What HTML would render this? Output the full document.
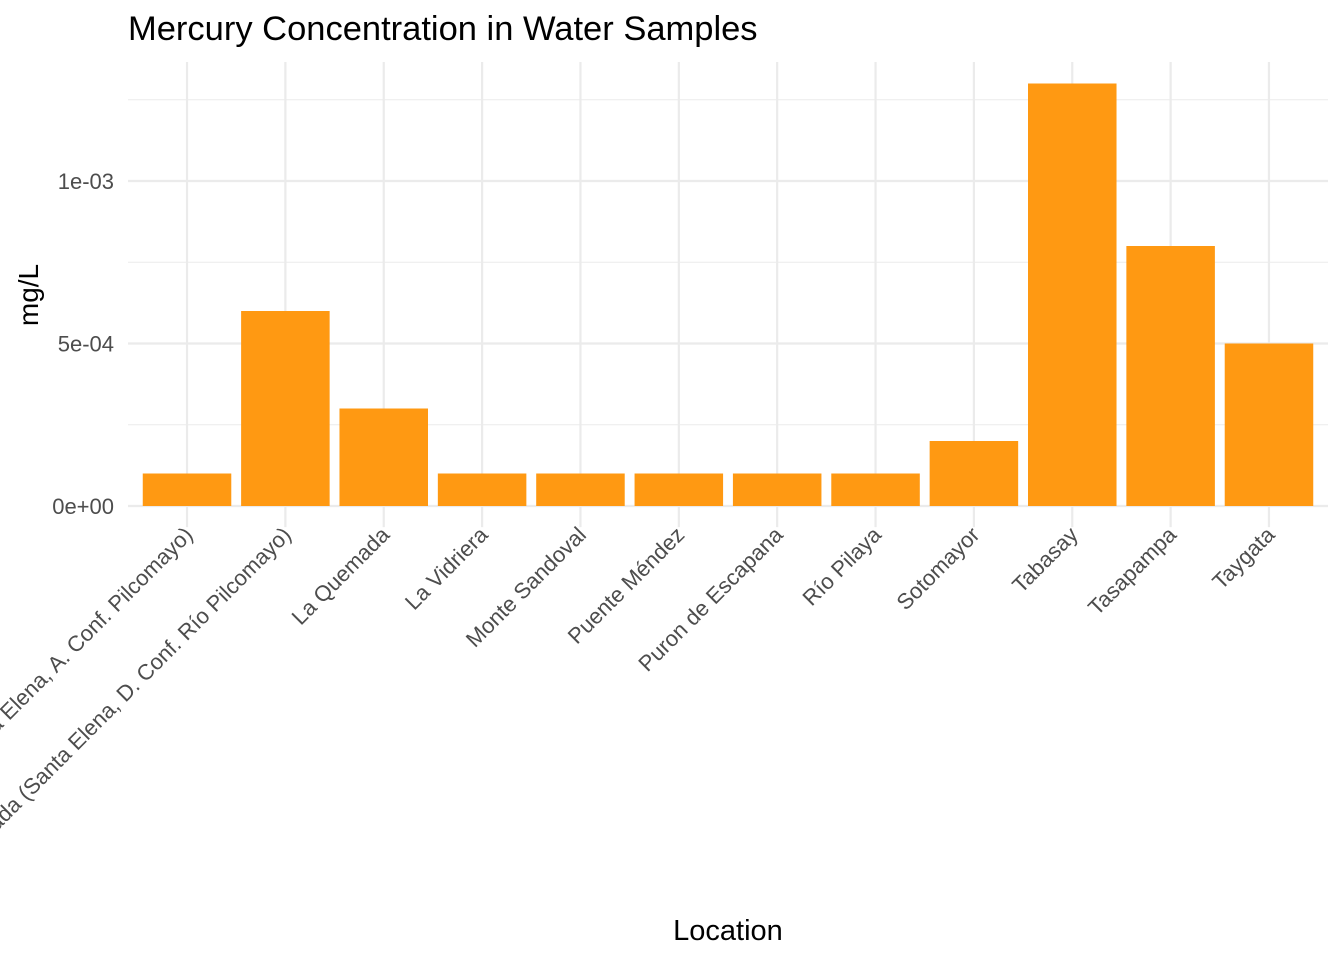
<!DOCTYPE html>
<html><head><meta charset="utf-8"><style>
body{margin:0;background:#fff;}
svg text{font-family:"Liberation Sans",Arial,sans-serif;}
</style></head><body>
<svg id="chart" width="1344" height="960" xmlns="http://www.w3.org/2000/svg">
<rect width="1344" height="960" fill="#fff"/>
<text x="128" y="40" font-size="34.5" fill="#000">Mercury Concentration in Water Samples</text>
<g id="grid"></g>
<g id="bars"></g>
<g id="ylabels"></g>
<g id="xlabels"></g>
<text x="728" y="940" font-size="29" text-anchor="middle" fill="#000">Location</text>
<text transform="translate(38,295) rotate(-90)" font-size="28" text-anchor="middle" fill="#000">mg/L</text>
</svg>
<script>
const categories=["Quebrada (Santa Elena, A. Conf. Pilcomayo)","Quebrada (Santa Elena, D. Conf. Río Pilcomayo)","La Quemada","La Vidriera","Monte Sandoval","Puente Méndez","Puron de Escapana","Río Pilaya","Sotomayor","Tabasay","Tasapampa","Taygata"];
const values=[0.0001,0.0006,0.0003,0.0001,0.0001,0.0001,0.0001,0.0001,0.0002,0.0013,0.0008,0.0005];
const yTicks=[0,0.0005,0.001];
const yTickLabels=["0e+00","5e-04","1e-03"];
const yMinor=[0.00025,0.00075,0.00125];
const NS="http://www.w3.org/2000/svg";
const L=128,R=1328,T=62;
const maxV=Math.max(...values);
const step=(R-L)/(categories.length-1+1.2);
const x=i=>L+(0.6+i)*step;
const ppu=(506-181)/0.001;
const y=v=>506-v*ppu;
const B=y(-maxV*0.05);
function mk(tag,attrs,parent){const e=document.createElementNS(NS,tag);for(const k in attrs)e.setAttribute(k,attrs[k]);document.getElementById(parent).appendChild(e);return e;}
yMinor.forEach(v=>{const l=mk('line',{x1:L,x2:R,y1:y(v),y2:y(v),stroke:'#ebebeb','stroke-width':1.1},'grid');

});
yTicks.forEach((v,i)=>{const l=mk('line',{x1:L,x2:R,y1:y(v),y2:y(v),stroke:'#ebebeb','stroke-width':2.2},'grid');


const t=mk('text',{x:L-14,y:y(v)+8,'font-size':22,'text-anchor':'end',fill:'#4d4d4d'},'ylabels');t.textContent=yTickLabels[i];

});
categories.forEach((c,i)=>{const l=mk('line',{x1:x(i),x2:x(i),y1:T,y2:B,stroke:'#ebebeb','stroke-width':2.2},'grid');


const bw=step*0.9;
const r=mk('rect',{x:x(i)-bw/2,y:y(values[i]),width:bw,height:y(0)-y(values[i]),fill:'#ff9912'},'bars');


const t=mk('text',{transform:`translate(${x(i)+7},${B+9}) rotate(-45)`,'font-size':22,'text-anchor':'end',fill:'#4d4d4d'},'xlabels');t.textContent=c;

});
</script>
</body></html>
